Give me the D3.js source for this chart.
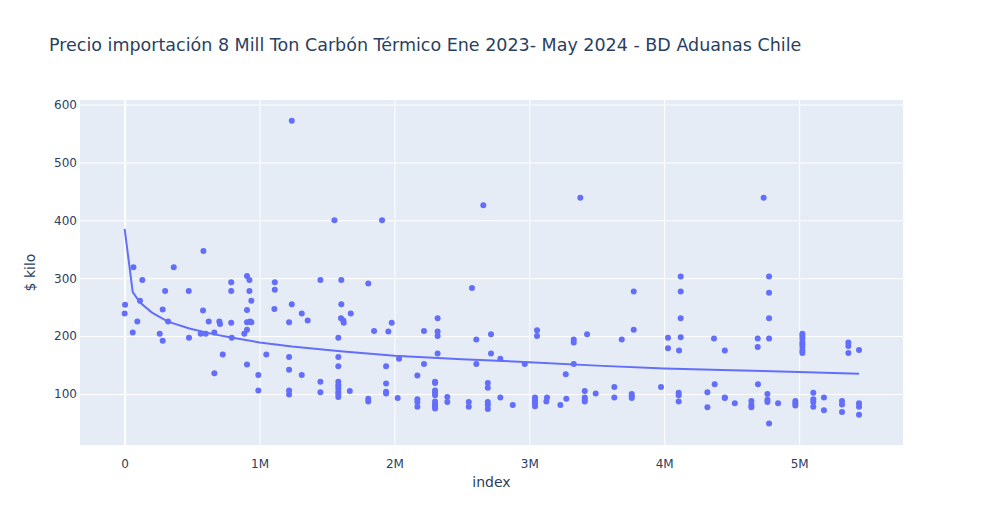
<!DOCTYPE html>
<html>
<head>
<meta charset="utf-8">
<script src="https://d3js.org/d3.v7.min.js"></script>
<style>
    body { margin: 0; background: #fff; }
    text { font-family: "DejaVu Sans", verdana, arial, sans-serif; fill: #2a3f5f; }
</style>
</head>
<body>
<div id="drawing_region"></div>
<script>
// index en millones, precio $ kilo
const indexM = [
    0.003, 0, 0.065, 0.131, 0.114, 0.094, 0.06, 0.282, 0.3, 0.322, 0.26, 0.282, 0.364, 0.475, 0.477, 0.584, 0.581, 0.564, 0.601, 0.623, 0.665, 0.702, 0.707, 0.727, 0.665, 0.79, 0.79, 0.79,
    0.794, 0.907, 0.925, 0.925, 0.939, 0.907, 0.907, 0.939, 0.93, 0.907, 0.887, 0.907, 0.991, 0.991, 1.05, 1.113, 1.113, 1.11, 1.239, 1.239, 1.219, 1.219, 1.219, 1.219, 1.219, 1.313, 1.357, 1.313, 1.451, 1.451, 1.451, 1.555, 1.606, 1.606, 1.604, 1.621, 1.624, 1.676, 1.584, 1.584, 1.584, 1.584, 1.584, 1.584, 1.584, 1.584, 1.584, 1.669, 1.806, 1.806, 1.806, 1.849,
    1.908, 1.955, 1.98, 1.938, 1.938, 1.938, 1.938, 2.034, 2.024, 2.17, 2.17, 2.17, 2.17, 2.219, 2.219, 2.32, 2.32, 2.32, 2.32, 2.301, 2.301, 2.301, 2.301, 2.301, 2.301, 2.301, 2.301, 2.301, 2.392, 2.392, 2.551, 2.551, 2.575, 2.659, 2.607, 2.607, 2.716, 2.716, 2.692, 2.692, 2.692, 2.692, 2.692, 2.785, 2.785, 2.877,
    2.966, 3.057, 3.057, 3.042, 3.042, 3.042, 3.042, 3.131, 3.126, 3.23, 3.27, 3.274, 3.378, 3.329, 3.329, 3.329, 3.428, 3.411, 3.411, 3.411, 3.411, 3.492, 3.63, 3.63, 3.685, 3.759, 3.759, 3.759, 3.774, 3.774, 3.976,
    4.028, 4.028, 4.122, 4.122, 4.122, 4.122, 4.11, 4.107, 4.107, 4.107, 4.32, 4.32, 4.369, 4.374, 4.449, 4.449, 4.449, 4.523, 4.646, 4.646, 4.646, 4.693, 4.693, 4.695, 4.737, 4.777, 4.777, 4.777, 4.777, 4.765, 4.765, 4.765, 4.777, 4.844, 4.972, 4.972, 4.972, 5.024, 5.024, 5.024, 5.024, 5.024, 5.024, 5.024, 5.024,
    5.105, 5.105, 5.105, 5.105, 5.184, 5.184, 5.318, 5.318, 5.318, 5.365, 5.365, 5.365, 5.444, 5.444, 5.444, 5.444
];
const precio = [
    254, 239, 319, 297, 261, 225, 206, 246, 278, 225, 204, 192, 319, 278, 197, 347, 244, 204, 204, 225, 206, 225, 221, 168, 136, 293, 278, 223,
    197, 304, 297, 278, 261, 245, 224, 224, 225, 211, 204, 151, 133, 106, 168, 293, 280, 247, 572, 255, 224, 164, 142, 106, 99, 239, 227, 133, 297, 121, 103, 400, 297, 255, 231, 227, 223, 239, 197, 164, 148, 121, 115, 110, 104, 100, 95, 105, 291, 92, 87, 209,
    400, 208, 223, 148, 118, 104, 101, 161, 93, 132, 91, 86, 78, 209, 152, 231, 208, 200, 170, 121, 119, 106, 102, 98, 87, 82, 78, 75, 95, 86, 86, 78, 283, 426, 194, 152, 203, 170, 119, 111, 86, 81, 74, 161, 94, 81,
    152, 210, 200, 94, 89, 84, 79, 94, 87, 81, 134, 92, 439, 194, 189, 152, 203, 105, 94, 90, 87, 101, 112, 94, 194, 100, 96, 93, 277, 211, 112,
    197, 179, 303, 277, 231, 198, 175, 102, 98, 87, 103, 77, 196, 117, 175, 94, 93, 84, 88, 81, 77, 196, 181, 117, 439, 303, 275, 231, 196, 100, 90, 86, 49, 84, 88, 84, 80, 204, 200, 196, 190, 186, 181, 175, 171,
    102, 91, 86, 78, 94, 72, 88, 82, 69, 189, 183, 171, 176, 84, 78, 64
];

// linea de tendencia
const trendIndexM = [0, 0.06, 0.114, 0.2, 0.32, 0.48, 0.665, 0.78, 1.0, 1.24, 1.6, 2.0, 2.5, 3.0, 3.5, 4.0, 4.5, 5.0, 5.444];
const trendPrecio = [385, 276, 258, 241, 225, 213, 203, 198, 189, 182, 174, 166, 160, 155, 149, 144, 141, 138, 135];

const xTicks = [0, 1e6, 2e6, 3e6, 4e6, 5e6];
const yTicks = [100, 200, 300, 400, 500, 600];

const title = 'Precio importación 8 Mill Ton Carbón Térmico Ene 2023- May 2024 - BD Aduanas Chile';

var config = {
    parent: '#drawing_region',
    width: 983,
    height: 525,
    margin: { top: 100, right: 80, bottom: 80, left: 80 },
    xDomain: [-0.331e6, 5.77e6],
    yDomain: [11.9, 607.8],
    font: '"DejaVu Sans", verdana, arial, sans-serif',
};

class Scatter {
    constructor(config) {
        this.config = config;
        this.init();
    }

    init() {
        let self = this;
        const m = self.config.margin;
        self.inner_width = self.config.width - m.left - m.right;
        self.inner_height = self.config.height - m.top - m.bottom;

        self.svg = d3.select(self.config.parent)
            .append('svg')
            .attr('width', self.config.width)
            .attr('height', self.config.height);

        self.chart = self.svg.append('g')
            .attr('transform', `translate(${m.left},${m.top})`);

        self.xscale = d3.scaleLinear().domain(self.config.xDomain).range([0, self.inner_width]);
        self.yscale = d3.scaleLinear().domain(self.config.yDomain).range([self.inner_height, 0]);
    }

    render() {
        let self = this;
        const x = self.xscale, y = self.yscale;
        const w = self.inner_width, h = self.inner_height;

        self.chart.append('rect')
            .attr('width', w).attr('height', h)
            .attr('fill', '#E5ECF6');

        // grid
        self.chart.append('g')
            .attr('transform', `translate(0,${h})`)
            .call(d3.axisBottom(x).tickValues(xTicks).tickSize(-h).tickFormat(''))
            .call(g => g.select('.domain').remove())
            .call(g => g.selectAll('line')
                .attr('stroke', '#fff')
                .attr('stroke-width', d => d === 0 ? 2 : 1));

        self.chart.append('g')
            .call(d3.axisLeft(y).tickValues(yTicks).tickSize(-w).tickFormat(''))
            .call(g => g.select('.domain').remove())
            .call(g => g.selectAll('line').attr('stroke', '#fff'));

        // tick labels
        const fmt = d3.format('~s');
        self.chart.append('g')
            .attr('transform', `translate(0,${h})`)
            .call(d3.axisBottom(x).tickValues(xTicks).tickSize(0).tickPadding(14).tickFormat(d => fmt(d)))
            .call(g => g.select('.domain').remove())
            .call(g => g.selectAll('text').attr('font-size', 12).attr('fill', '#2a3f5f')
                .attr('font-family', self.config.font));

        self.chart.append('g')
            .call(d3.axisLeft(y).tickValues(yTicks).tickSize(0).tickPadding(3))
            .call(g => g.select('.domain').remove())
            .call(g => g.selectAll('text').attr('font-size', 12).attr('fill', '#2a3f5f')
                .attr('font-family', self.config.font));

        // trend line
        const trend = trendIndexM.map((v, i) => [v * 1e6, trendPrecio[i]]);
        self.chart.append('path')
            .datum(trend)
            .attr('fill', 'none')
            .attr('stroke', '#636efa')
            .attr('stroke-width', 2)
            .attr('d', d3.line().x(d => x(d[0])).y(d => y(d[1])));

        // points
        self.chart.selectAll('circle')
            .data(indexM.map((v, i) => [v * 1e6, precio[i]]))
            .enter()
            .append('circle')
            .attr('cx', d => x(d[0]))
            .attr('cy', d => y(d[1]))
            .attr('r', 3)
            .attr('fill', '#636efa');

        // titles
        self.svg.append('text')
            .attr('x', 49).attr('y', 51)
            .attr('font-size', 17.5)
            .text(title);

        self.svg.append('text')
            .attr('x', self.config.margin.left + w / 2)
            .attr('y', self.config.height - 38)
            .attr('text-anchor', 'middle')
            .attr('font-size', 14)
            .text('index');

        self.svg.append('text')
            .attr('transform', `translate(35,${self.config.margin.top + h / 2}) rotate(-90)`)
            .attr('text-anchor', 'middle')
            .attr('font-size', 14)
            .text('$ kilo');
    }
}

let chart = new Scatter(config);
chart.render();
</script>
</body>
</html>
